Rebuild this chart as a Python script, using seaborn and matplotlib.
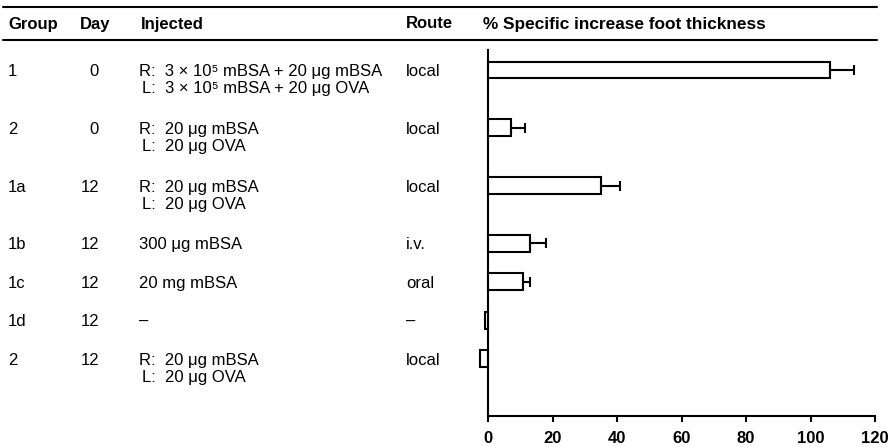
import numpy as np
import pandas as pd
import matplotlib
matplotlib.use("Agg")
import matplotlib.pyplot as plt
import seaborn as sns
from matplotlib.lines import Line2D
from matplotlib.transforms import blended_transform_factory, offset_copy

# ---- table contents -------------------------------------------------------
groups = ["1", "2", "1a", "1b", "1c", "1d", "2"]
days = ["0", "0", "12", "12", "12", "12", "12"]
injected = [
    ["R:  3 × 10⁵ mBSA + 20 μg mBSA", "L:  3 × 10⁵ mBSA + 20 μg OVA"],
    ["R:  20 μg mBSA", "L:  20 μg OVA"],
    ["R:  20 μg mBSA", "L:  20 μg OVA"],
    ["300 μg mBSA"],
    ["20 mg mBSA"],
    ["–"],
    ["R:  20 μg mBSA", "L:  20 μg OVA"],
]
routes = ["local", "local", "local", "i.v.", "oral", "–", "local"]

# % specific increase in foot thickness and its error
increase = [106, 7, 35, 13, 11, -1, -2.5]
error = [7.5, 4.5, 6, 5, 2, 1, 1]

x_ticks = [0, 20, 40, 60, 80, 100, 120]
headers = ["Group", "Day", "Injected", "Route", "% Specific increase foot thickness"]

# ---- style ------------------------------------------------------------------
sns.set_style("ticks")
plt.rcParams["font.family"] = ["Liberation Sans", "DejaVu Sans"]
plt.rcParams["text.color"] = "black"
plt.rcParams["xtick.color"] = "black"
plt.rcParams["axes.edgecolor"] = "black"

W, H = 893, 447
fig = plt.figure(figsize=(W / 100, H / 100), dpi=100)
fig.patch.set_facecolor("white")

# rows with two lines of text take half a row more space
steps = [1.5 if len(lines) == 2 else 1.0 for lines in injected]
positions = np.concatenate([[0.0], np.cumsum(steps)[:-1]])

ax = fig.add_axes([488 / W, 1 - 416 / H, (875 - 488) / W, (416 - 50) / H])
df = pd.DataFrame({"pos": positions, "increase": increase})
sns.barplot(data=df, x="increase", y="pos", orient="h", native_scale=True,
            width=0.44, color="white", saturation=1, edgecolor="black",
            linewidth=1.5, errorbar=None, ax=ax)

inc = np.array(increase)
err = np.array(error)
lower = np.where(inc < 0, err, 0)
upper = np.where(inc >= 0, err, 0)
ax.errorbar(inc, positions, xerr=[lower, upper], fmt="none", ecolor="black",
            elinewidth=1.5, capsize=3.5, capthick=1.5, zorder=3)

ax.set_xlim(0, 120)
ax.set_ylim(-0.52 + 366 / 38.5, -0.52)
ax.set_xticks(x_ticks)
ax.set_xticklabels([str(t) for t in x_ticks], fontweight="bold", fontsize=12)
ax.set_yticks([])
ax.set_xlabel("")
ax.set_ylabel("")
ax.tick_params(axis="x", direction="out", length=4, width=1.5, pad=6.5, colors="black")
for side in ("top", "right"):
    ax.spines[side].set_visible(False)
for side in ("left", "bottom"):
    ax.spines[side].set_linewidth(1.5)
    ax.spines[side].set_color("black")
ax.set_facecolor("none")
for p in ax.patches:
    p.set_clip_on(False)

# ---- table text ---------------------------------------------------------------
trans = blended_transform_factory(fig.transFigure, ax.transData)
line1 = offset_copy(trans, fig=fig, x=0, y=-6, units="dots")
line2 = offset_copy(trans, fig=fig, x=0, y=-23, units="dots")
fs = 12

for i, y in enumerate(positions):
    kw = dict(transform=line1, va="baseline", fontsize=fs)
    fig.text(8 / W, y, groups[i], ha="left", **kw)
    fig.text(99 / W, y, days[i], ha="right", **kw)
    fig.text(139 / W, y, injected[i][0], ha="left", **kw)
    fig.text(406 / W, y, routes[i], ha="left", **kw)
    if len(injected[i]) > 1:
        fig.text(142 / W, y, injected[i][1], ha="left", transform=line2,
                 va="baseline", fontsize=fs)

# ---- header ---------------------------------------------------------------------
header_x = [8, 80, 141, 406, 483]
header_fs = [fs, fs, fs, fs, 12.4]
for hx, hfs, label in zip(header_x, header_fs, headers):
    fig.text(hx / W, 1 - 24 / H, label, va="center", ha="left",
             fontsize=hfs, fontweight="bold")

for yy in (7, 40):
    fig.add_artist(Line2D([3 / W, 877 / W], [1 - yy / H, 1 - yy / H],
                          transform=fig.transFigure, color="black", lw=1.5))

fig.savefig("out.png", dpi=100, facecolor="white")
